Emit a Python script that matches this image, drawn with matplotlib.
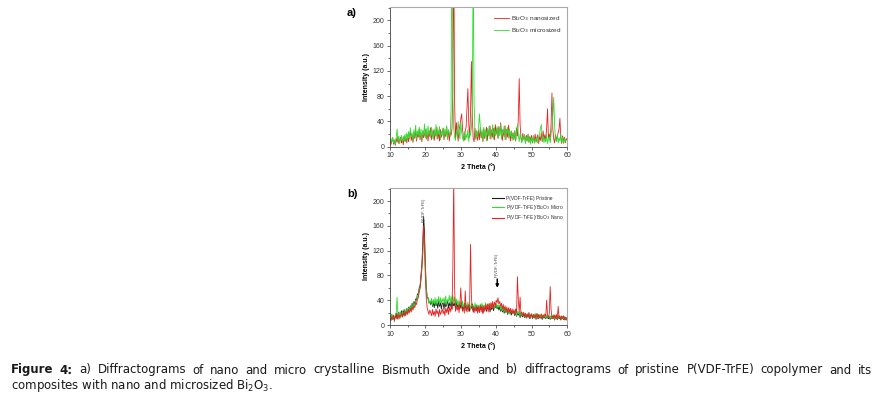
import numpy as np
import matplotlib
matplotlib.use("Agg")
import matplotlib.pyplot as plt
from matplotlib.ticker import MultipleLocator

plt.rcParams['font.family'] = ['Liberation Sans', 'DejaVu Sans']

# scan grid: 10 to 60 degrees, 0.25 degree step
two_theta = np.arange(10, 60.001, 0.25)

# a) Bi2O3 powders
bi_nano = [
    12, 3, 9, 14, 4, 10, 2, 13, 7, 16, 5, 11, 15, 6, 12, 3, 17, 8, 14, 6,
    19, 8, 16, 24, 10, 18, 7, 22, 13, 26, 9, 20, 15, 28, 11, 21, 8, 24, 14, 19,
    27, 12, 22, 9, 25, 16, 30, 11, 20, 26, 10, 23, 17, 31, 12, 24, 9, 27, 15, 22,
    29, 11, 24, 16, 32, 13, 26, 9, 23, 18, 28, 90, 320, 70, 12, 38, 24, 9, 27, 33,
    44, 52, 27, 14, 10, 25, 31, 60, 92, 36, 15, 55, 135, 48, 13, 8, 29, 12, 24, 10,
    26, 11, 30, 14, 24, 8, 28, 13, 22, 31, 10, 26, 17, 33, 12, 27, 15, 29, 11, 35,
    20, 29, 13, 32, 18, 38, 24, 10, 27, 16, 33, 11, 28, 15, 34, 20, 9, 25, 13, 22,
    11, 24, 9, 30, 17, 45, 108, 35, 14, 8, 21, 12, 19, 6, 18, 9, 20, 7, 16, 10,
    18, 6, 15, 9, 20, 7, 13, 19, 5, 16, 10, 22, 8, 25, 11, 19, 9, 30, 60, 14,
    20, 9, 35, 85, 28, 12, 6, 19, 10, 16, 22, 28, 45, 14, 5, 17, 8, 15, 6, 13,
    11,
]
bi_micro = [
    4, 13, 8, 15, 6, 11, 3, 14, 28, 9, 17, 5, 12, 18, 7, 16, 10, 20, 8, 22,
    11, 24, 13, 30, 16, 22, 9, 27, 15, 34, 12, 25, 18, 31, 14, 28, 10, 26, 20, 36,
    15, 29, 12, 33, 19, 26, 14, 31, 22, 12, 28, 17, 35, 13, 27, 20, 32, 11, 24, 18,
    30, 14, 28, 19, 33, 11, 27, 22, 16, 60, 300, 80, 30, 15, 10, 25, 18, 40, 26, 12,
    38, 22, 14, 9, 24, 11, 20, 13, 27, 8, 22, 18, 30, 60, 300, 70, 24, 12, 26, 15,
    28, 52, 33, 14, 27, 10, 31, 16, 25, 9, 29, 19, 33, 13, 26, 21, 35, 12, 30, 17,
    24, 32, 14, 29, 18, 36, 12, 27, 21, 33, 11, 26, 20, 31, 14, 28, 17, 24, 10, 22,
    12, 26, 10, 22, 35, 18, 8, 20, 13, 6, 17, 11, 19, 5, 15, 9, 18, 7, 16, 4,
    14, 7, 18, 5, 12, 9, 16, 6, 13, 20, 30, 35, 10, 17, 6, 14, 8, 19, 5, 12,
    16, 6, 20, 30, 50, 78, 35, 12, 8, 18, 6, 14, 9, 20, 7, 15, 5, 13, 8, 11,
    10,
]

# b) P(VDF-TrFE) films
pvdf_pristine = [
    14, 7, 17, 9, 13, 6, 15, 19, 10, 16, 21, 11, 18, 23, 13, 20, 25, 15, 22, 27,
    19, 29, 23, 31, 25, 35, 28, 38, 32, 42, 40, 50, 50, 60, 64, 80, 98, 130, 175, 150,
    95, 62, 45, 44, 36, 38, 33, 40, 30, 37, 28, 38, 31, 36, 27, 39, 30, 36, 26, 34,
    36, 25, 38, 29, 33, 40, 27, 36, 30, 39, 26, 37, 31, 35, 27, 38, 29, 33, 25, 36,
    27, 34, 24, 32, 28, 35, 23, 31, 26, 33, 22, 30, 27, 34, 21, 29, 25, 32, 23, 28,
    30, 21, 29, 25, 32, 20, 28, 24, 31, 22, 27, 26, 33, 21, 29, 25, 31, 23, 30, 28,
    33, 26, 31, 24, 30, 22, 29, 21, 27, 19, 25, 20, 26, 17, 24, 18, 23, 16, 21, 19,
    22, 15, 21, 14, 19, 16, 21, 12, 18, 15, 13, 19, 12, 17, 11, 16, 13, 17, 10, 15,
    16, 10, 15, 12, 17, 9, 14, 16, 10, 15, 11, 14, 9, 15, 11, 13, 10, 14, 12, 10,
    13, 9, 14, 10, 12, 15, 8, 13, 11, 9, 14, 10, 12, 8, 13, 11, 9, 12, 10, 8,
    11,
]
pvdf_micro = [
    16, 8, 18, 10, 14, 7, 16, 20, 45, 13, 19, 10, 21, 14, 23, 16, 19, 25, 17, 27,
    18, 28, 22, 30, 24, 33, 27, 36, 30, 40, 38, 48, 46, 57, 60, 75, 92, 115, 145, 125,
    85, 58, 42, 43, 34, 40, 35, 43, 32, 41, 34, 44, 32, 42, 36, 46, 33, 44, 35, 42,
    37, 44, 35, 47, 33, 41, 38, 48, 34, 46, 37, 49, 35, 45, 31, 42, 33, 40, 29, 38,
    36, 28, 39, 27, 35, 31, 34, 26, 37, 30, 33, 25, 35, 29, 32, 26, 36, 27, 33, 30,
    32, 25, 34, 29, 35, 24, 31, 30, 36, 25, 33, 28, 34, 27, 31, 35, 28, 33, 26, 32,
    35, 27, 33, 29, 32, 24, 30, 23, 29, 21, 28, 20, 27, 19, 26, 18, 25, 20, 22, 19,
    23, 17, 24, 15, 22, 18, 23, 14, 21, 16, 15, 21, 13, 19, 12, 18, 14, 20, 12, 17,
    18, 11, 17, 13, 19, 10, 16, 18, 11, 17, 12, 16, 11, 17, 12, 15, 11, 16, 13, 12,
    15, 10, 16, 11, 14, 17, 9, 15, 12, 10, 16, 11, 14, 9, 15, 12, 10, 14, 11, 9,
    12,
]
pvdf_nano = [
    6, 14, 9, 12, 16, 8, 15, 11, 18, 9, 17, 12, 15, 19, 13, 20, 14, 22, 16, 23,
    17, 25, 20, 27, 21, 29, 24, 31, 28, 36, 33, 42, 44, 53, 59, 73, 90, 115, 160, 130,
    75, 42, 28, 22, 17, 24, 20, 15, 25, 16, 22, 14, 26, 18, 23, 13, 25, 17, 21, 26,
    18, 24, 15, 27, 20, 28, 17, 29, 21, 30, 24, 90, 240, 60, 22, 30, 24, 32, 20, 34,
    60, 30, 22, 29, 19, 55, 26, 21, 32, 22, 35, 130, 45, 24, 30, 20, 28, 22, 31, 19,
    29, 20, 32, 21, 30, 18, 31, 22, 33, 24, 34, 21, 35, 25, 36, 27, 38, 26, 37, 31,
    40, 36, 44, 34, 38, 30, 35, 26, 33, 24, 31, 22, 29, 20, 28, 21, 27, 19, 26, 18,
    25, 17, 26, 20, 78, 40, 22, 45, 17, 21, 15, 20, 14, 19, 13, 18, 12, 20, 11, 16,
    18, 12, 17, 11, 16, 13, 19, 10, 17, 12, 15, 18, 11, 16, 13, 18, 14, 40, 16, 12,
    19, 62, 25, 12, 15, 10, 16, 11, 17, 9, 30, 12, 15, 9, 14, 11, 15, 8, 13, 10,
    12,
]
for s in (bi_nano, bi_micro, pvdf_pristine, pvdf_micro, pvdf_nano):
    assert len(s) == len(two_theta), len(s)

labels_a = ["Bi$_2$O$_3$ nanosized", "Bi$_2$O$_3$ microsized"]
labels_b = ["P(VDF-TrFE) Pristine", "P(VDF-TrFE)/Bi$_2$O$_3$ Micro",
            "P(VDF-TrFE)/Bi$_2$O$_3$ Nano"]

RED = '#e82222'
GREEN = '#2fdc2f'
BLACK = '#1a1a1a'
LW = 0.6

W, H = 882, 397
fig = plt.figure(figsize=(W / 100, H / 100), dpi=100)


def style_axes(ax):
    ax.set_xlim(10, 60)
    ax.set_ylim(0, 221)
    ax.xaxis.set_major_locator(MultipleLocator(10))
    ax.xaxis.set_minor_locator(MultipleLocator(5))
    ax.yaxis.set_major_locator(MultipleLocator(40))
    ax.yaxis.set_minor_locator(MultipleLocator(20))
    ax.tick_params(which='both', direction='out', labelsize=5, colors='#333333',
                   width=0.5, pad=1.5)
    ax.tick_params(which='major', length=2.5)
    ax.tick_params(which='minor', length=1.5)
    for s in ['top', 'right']:
        ax.spines[s].set_color('#aaaaaa')
        ax.spines[s].set_linewidth(0.8)
    for s in ['left', 'bottom']:
        ax.spines[s].set_color('#444444')
        ax.spines[s].set_linewidth(0.6)
    ax.set_xlabel('2 Theta (°)', fontsize=5, fontweight='bold', labelpad=3)
    ax.set_ylabel('Intensity (a.u.)', fontsize=5, fontweight='bold', labelpad=2)


ax_a = fig.add_axes([390 / W, 1 - 146.7 / H, 177 / W, 139.5 / H])
ax_a.plot(two_theta, bi_nano, color=RED, lw=LW, label=labels_a[0])
ax_a.plot(two_theta, bi_micro, color=GREEN, lw=LW, label=labels_a[1])
style_axes(ax_a)
leg = ax_a.legend(loc='upper left', bbox_to_anchor=(0.57, 0.97), frameon=False,
                  fontsize=4.6, handlelength=2.3, handletextpad=0.3,
                  labelspacing=0.45, borderpad=0)
for t in leg.get_texts():
    t.set_color('#333333')

ax_b = fig.add_axes([390 / W, 1 - 325 / H, 177 / W, 137 / H])
ax_b.plot(two_theta, pvdf_pristine, color=BLACK, lw=LW, label=labels_b[0])
ax_b.plot(two_theta, pvdf_micro, color=GREEN, lw=LW, label=labels_b[1])
ax_b.plot(two_theta, pvdf_nano, color=RED, lw=LW, label=labels_b[2])
style_axes(ax_b)
leg = ax_b.legend(loc='upper left', bbox_to_anchor=(0.56, 0.96), frameon=False,
                  fontsize=3.5, handlelength=2.6, handletextpad=0.3,
                  labelspacing=0.35, borderpad=0)
for t in leg.get_texts():
    t.set_color('#333333')
for h in leg.get_lines():
    h.set_linewidth(0.8)
ax_b.text(19.4, 186, 'P(VDF-TrFE)', rotation=90, fontsize=3, color='#444444',
          ha='center', va='center')
ax_b.text(40.2, 97, 'P(VDF-TrFE)', rotation=90, fontsize=3, color='#444444',
          ha='center', va='center')
ax_b.annotate('', xy=(40.3, 60), xytext=(40.3, 74),
              arrowprops=dict(arrowstyle='-|>', color='k', lw=1.1,
                              mutation_scale=4, shrinkA=0, shrinkB=0))

fig.text(347 / W, 1 - 16 / H, 'a)', fontsize=8, fontweight='bold', va='baseline')
fig.text(347 / W, 1 - 197 / H, 'b)', fontsize=8, fontweight='bold', va='baseline')

# caption, first line justified
cap_font = dict(family='DejaVu Sans', fontsize=8.5, color='#1a1a1a')
line1 = ("a) Diffractograms of nano and micro crystalline Bismuth Oxide and b) "
         "diffractograms of pristine P(VDF-TrFE) copolymer and its").split()
words = [('Figure', 'bold'), ('4:', 'bold')] + [(w, 'normal') for w in line1]
y1 = 1 - 373.5 / H
texts = [fig.text(0, y1, w, fontweight=fw, va='baseline', **cap_font)
         for w, fw in words]
fig.canvas.draw()
r = fig.canvas.get_renderer()
widths = [t.get_window_extent(r).width for t in texts]
x0, x1 = 11, 872
gap = (x1 - x0 - sum(widths)) / (len(texts) - 1)
x = x0
for t, w in zip(texts, widths):
    t.set_x(x / W)
    x += w + gap
fig.text(x0 / W, 1 - 389.5 / H,
         'composites with nano and microsized Bi$_2$O$_3$.', va='baseline',
         **cap_font)

fig.savefig('out.png', dpi=100)
